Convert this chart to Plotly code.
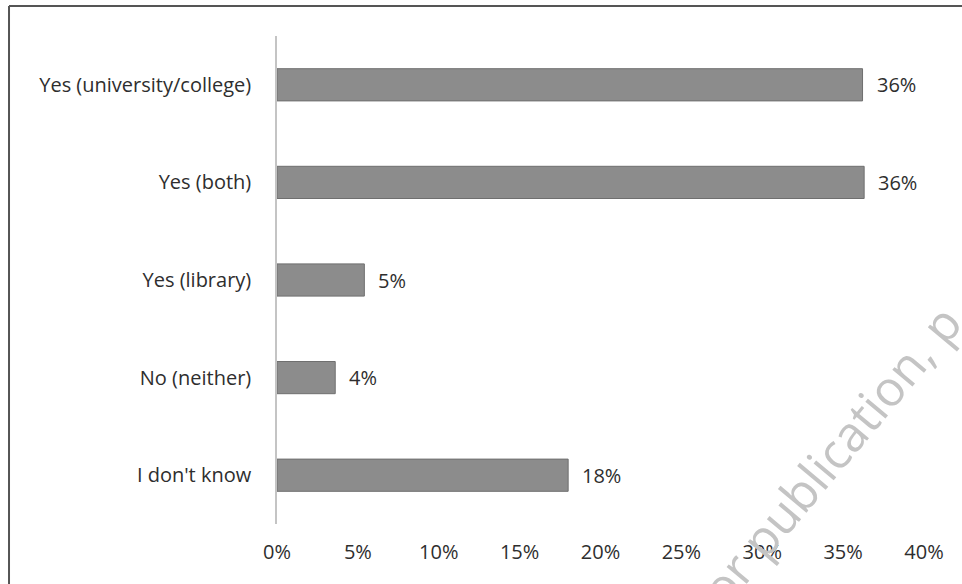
import plotly.graph_objects as go

categories = ["Yes (university/college)", "Yes (both)", "Yes (library)", "No (neither)", "I don't know"]
values = [36.2, 36.3, 5.4, 3.6, 18.0]
value_labels = ["36%", "36%", "5%", "4%", "18%"]
tick_vals = [0, 5, 10, 15, 20, 25, 30, 35, 40]
tick_text = ["0%", "5%", "10%", "15%", "20%", "25%", "30%", "35%", "40%"]

FONT = "Open Sans"
TXT = "#2e2e2e"
FS = 20

fig = go.Figure()
fig.add_trace(go.Bar(
    y=categories, x=values, orientation="h",
    width=0.33,
    marker=dict(color="#8c8c8c", line=dict(color="#6f6f6f", width=1)),
    hoverinfo="skip",
))

for c, v, t in zip(categories, values, value_labels):
    fig.add_annotation(x=v, y=c, text=t, showarrow=False, xanchor="left",
                       xshift=12, font=dict(family=FONT, size=FS, color=TXT))

# frame lines (top & left)
L = -0.4142
T = 1.0615
R = 1.06
B = -0.13
fig.add_shape(type="line", xref="paper", yref="paper", x0=L, x1=L, y0=B, y1=T,
              line=dict(color="#555555", width=2))
fig.add_shape(type="line", xref="paper", yref="paper", x0=L, x1=R, y0=T, y1=T,
              line=dict(color="#555555", width=2))

# watermark
fig.add_annotation(xref="paper", yref="paper", x=0.826, y=0.097,
                   xanchor="center", yanchor="middle",
                   text="d for publication, p", showarrow=False, textangle=-50,
                   font=dict(family="Open Sans", size=49, color="#c4c4c4"))

fig.update_layout(
    width=962, height=584,
    margin=dict(l=277, r=38, t=36, b=60),
    paper_bgcolor="white", plot_bgcolor="white",
    showlegend=False,
    font=dict(family=FONT, size=FS, color=TXT),
    xaxis=dict(range=[0, 40], tickvals=tick_vals, ticktext=tick_text,
               showgrid=False, zeroline=False, showline=False,
               ticks="", ticklabelstandoff=14,
               tickfont=dict(family=FONT, size=FS, color=TXT)),
    yaxis=dict(categoryorder="array", categoryarray=categories[::-1],
               showgrid=False, zeroline=False, showline=True,
               linecolor="#c4c4c4", linewidth=1.5, ticks="",
               ticklabelstandoff=20,
               tickfont=dict(family=FONT, size=FS, color=TXT)),
)

fig.write_html("out.html")
